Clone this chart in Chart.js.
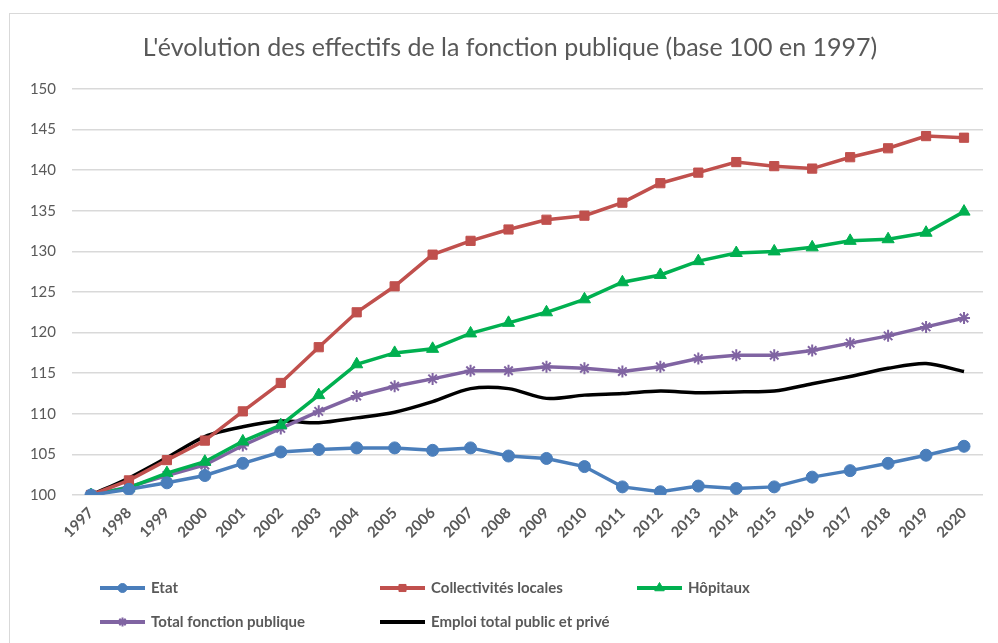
<!DOCTYPE html>
<html>
<head>
<meta charset="utf-8">
<script src="https://cdn.jsdelivr.net/npm/chart.js@4"></script>
<style>
  body { margin: 0; background: #fff; }
  #wrap { position: relative; width: 998px; height: 643px; overflow: hidden; }
  #frame { position: absolute; left: 9px; top: 13px; width: 1100px; height: 700px; border: 1px solid #d9d9d9; }
  canvas { position: absolute; left: 0; top: 0; }
</style>
</head>
<body>
<div id="wrap">
  <div id="frame"></div>
  <canvas id="evolutionChart" width="998" height="643"></canvas>
</div>
<script>
// Data (base 100 en 1997)
const years = ["1997", "1998", "1999", "2000", "2001", "2002", "2003", "2004", "2005", "2006", "2007", "2008",
  "2009", "2010", "2011", "2012", "2013", "2014", "2015", "2016", "2017", "2018", "2019", "2020"];

const etat = [100, 100.7, 101.5, 102.4, 103.9, 105.3, 105.6, 105.8, 105.8, 105.5, 105.8, 104.8,
  104.5, 103.5, 101.0, 100.4, 101.1, 100.8, 101.0, 102.2, 103.0, 103.9, 104.9, 106.0];
const collectivites = [100, 101.8, 104.3, 106.7, 110.3, 113.8, 118.2, 122.5, 125.7, 129.6, 131.3, 132.7,
  133.9, 134.4, 136.0, 138.4, 139.7, 141.0, 140.5, 140.2, 141.6, 142.7, 144.2, 144.0];
const hopitaux = [100, 100.9, 102.7, 104.1, 106.6, 108.6, 112.3, 116.1, 117.5, 118.0, 119.9, 121.2,
  122.5, 124.1, 126.2, 127.1, 128.8, 129.8, 130.0, 130.5, 131.3, 131.5, 132.3, 134.9];
const totalFonctionPublique = [100, 101.0, 102.4, 103.7, 106.1, 108.2, 110.3, 112.2, 113.4, 114.3, 115.3, 115.3,
  115.8, 115.6, 115.2, 115.8, 116.8, 117.2, 117.2, 117.8, 118.7, 119.6, 120.7, 121.8];
const emploiTotal = [100, 102.1, 104.6, 107.2, 108.4, 109.1, 108.9, 109.5, 110.2, 111.5, 113.1, 113.1,
  111.9, 112.3, 112.5, 112.8, 112.6, 112.7, 112.8, 113.7, 114.6, 115.6, 116.2, 115.2];

const seriesNames = ["Etat", "Collectivités locales", "Hôpitaux", "Total fonction publique", "Emploi total public et privé"];
const yMin = 100, yMax = 150, yStep = 5;
const titleText = "L'évolution des effectifs de la fonction publique (base 100 en 1997)";

const textColor = "#595959";
const fontFamily = "Lato, 'Open Sans', sans-serif";

// Title + grid legend drawn on the canvas
const titleAndLegend = {
  id: "titleAndLegend",
  afterDraw(chart) {
    const c = chart.ctx;
    c.save();
    c.fillStyle = textColor;
    c.font = "25px " + fontFamily;
    c.textAlign = "center";
    c.textBaseline = "middle";
    c.fillText(titleText, 510, 48);

    const cols = [100, 380, 637];
    const rows = [588, 622];
    c.font = "bold 15px " + fontFamily;
    c.textAlign = "left";
    chart.data.datasets.forEach((ds, i) => {
      const x = cols[i % 3];
      const y = rows[Math.floor(i / 3)];
      c.strokeStyle = ds.borderColor;
      c.lineWidth = 4;
      c.beginPath();
      c.moveTo(x, y);
      c.lineTo(x + 45, y);
      c.stroke();
      if (ds.pointRadius > 0) {
        c.fillStyle = ds.borderColor;
        c.lineWidth = ds.pointStyle === "star" ? 2 : 1;
        Chart.helpers.drawPoint(c, {
          pointStyle: ds.pointStyle,
          radius: ds.pointRadius - 1.5,
          borderWidth: c.lineWidth,
          rotation: 0
        }, x + 22.5, y);
      }
      c.fillStyle = textColor;
      c.fillText(ds.label, x + 51, y);
    });
    c.restore();
  }
};

function makeSet(label, data, color, style, radius, tension) {
  return {
    label: label,
    data: data,
    borderColor: color,
    backgroundColor: color,
    pointBackgroundColor: color,
    pointBorderColor: color,
    borderWidth: 3.5,
    pointStyle: style,
    pointRadius: radius,
    pointBorderWidth: style === "star" ? 2 : 1,
    tension: tension,
    fill: false
  };
}

const ctx = document.getElementById("evolutionChart").getContext("2d");
const chart = new Chart(ctx, {
  type: "line",
  data: {
    labels: years,
    datasets: [
      makeSet(seriesNames[0], etat, "#4a7ebb", "circle", 6, 0),
      makeSet(seriesNames[1], collectivites, "#c0504d", "rect", 6.5, 0),
      makeSet(seriesNames[2], hopitaux, "#00b050", "triangle", 7, 0),
      makeSet(seriesNames[3], totalFonctionPublique, "#8064a2", "star", 6, 0),
      makeSet(seriesNames[4], emploiTotal, "#000000", "circle", 0, 0.3)
    ]
  },
  options: {
    responsive: false,
    animation: false,
    layout: {
      padding: { top: 89, right: 15, bottom: 88, left: 0 }
    },
    plugins: {
      legend: { display: false },
      title: { display: false },
      tooltip: { enabled: false }
    },
    scales: {
      x: {
        offset: true,
        grid: { display: false, drawTicks: false },
        border: { display: false },
        ticks: {
          color: textColor,
          font: { family: fontFamily, size: 15, weight: "bold" },
          minRotation: 45,
          maxRotation: 45,
          padding: 9,
          autoSkip: false
        },
        afterFit(scale) { scale.height = 60; }
      },
      y: {
        min: yMin,
        max: yMax,
        grid: { color: "#d9d9d9", lineWidth: 1.5, drawTicks: false },
        border: { display: false },
        ticks: {
          stepSize: yStep,
          color: textColor,
          font: { family: fontFamily, size: 15 },
          padding: 16
        },
        afterFit(scale) { scale.width = 72; }
      }
    }
  },
  plugins: [titleAndLegend]
});
</script>
</body>
</html>
